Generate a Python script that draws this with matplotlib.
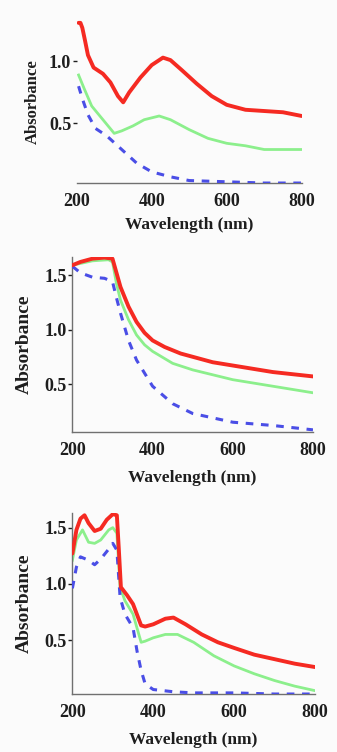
import matplotlib.pyplot as plt

plt.rcParams['font.family'] = ['Liberation Serif', 'DejaVu Serif']
plt.rcParams['font.weight'] = 'bold'

# ---- panel 1 ----
wl_a_red = [205, 210, 215, 222, 230, 245, 270, 290, 310, 324, 340, 370, 400, 430, 450, 480, 520, 560, 600, 650, 700, 750, 800]
abs_a_red = [1.31, 1.31, 1.27, 1.17, 1.05, 0.95, 0.90, 0.83, 0.72, 0.67, 0.75, 0.87, 0.97, 1.03, 1.01, 0.93, 0.82, 0.72, 0.65, 0.61, 0.60, 0.59, 0.56]
wl_a_green = [205, 220, 240, 270, 300, 320, 350, 380, 420, 450, 500, 550, 600, 650, 700, 800]
abs_a_green = [0.89, 0.78, 0.64, 0.53, 0.42, 0.44, 0.48, 0.53, 0.56, 0.53, 0.45, 0.38, 0.34, 0.32, 0.29, 0.29]
wl_a_blue = [205, 215, 230, 250, 280, 320, 360, 400, 450, 500, 600, 700, 800]
abs_a_blue = [0.80, 0.70, 0.57, 0.46, 0.40, 0.29, 0.18, 0.11, 0.07, 0.04, 0.03, 0.02, 0.02]

# ---- panel 2 ----
wl_b_red = [200, 220, 250, 280, 300, 310, 320, 340, 360, 380, 400, 430, 470, 500, 550, 600, 650, 700, 800]
abs_b_red = [1.59, 1.62, 1.65, 1.66, 1.65, 1.52, 1.39, 1.21, 1.07, 0.97, 0.90, 0.84, 0.78, 0.75, 0.70, 0.67, 0.64, 0.61, 0.57]
wl_b_green = [200, 250, 290, 300, 310, 320, 340, 360, 380, 400, 450, 500, 600, 700, 800]
abs_b_green = [1.59, 1.63, 1.64, 1.62, 1.42, 1.27, 1.09, 0.95, 0.86, 0.80, 0.69, 0.63, 0.54, 0.48, 0.42]
wl_b_blue = [200, 220, 250, 280, 300, 310, 320, 340, 360, 380, 400, 450, 500, 550, 600, 700, 800]
abs_b_blue = [1.58, 1.52, 1.48, 1.47, 1.44, 1.29, 1.15, 0.90, 0.72, 0.60, 0.48, 0.32, 0.23, 0.19, 0.15, 0.12, 0.08]

# ---- panel 3 ----
wl_c_red = [200, 210, 220, 230, 240, 255, 270, 285, 300, 310, 315, 320, 335, 350, 370, 380, 400, 430, 450, 480, 520, 560, 600, 650, 700, 750, 800]
abs_c_red = [1.27, 1.48, 1.58, 1.61, 1.54, 1.47, 1.49, 1.57, 1.62, 1.61, 1.30, 0.97, 0.90, 0.82, 0.63, 0.62, 0.64, 0.69, 0.70, 0.64, 0.55, 0.48, 0.43, 0.37, 0.33, 0.29, 0.26]
wl_c_green = [200, 210, 225, 240, 255, 270, 290, 300, 310, 318, 330, 350, 370, 380, 400, 430, 460, 500, 550, 600, 650, 700, 750, 800]
abs_c_green = [1.21, 1.39, 1.48, 1.37, 1.36, 1.39, 1.48, 1.50, 1.45, 0.97, 0.85, 0.73, 0.48, 0.49, 0.52, 0.55, 0.55, 0.48, 0.36, 0.27, 0.20, 0.14, 0.09, 0.05]
wl_c_blue = [200, 210, 220, 240, 255, 270, 290, 300, 310, 318, 330, 350, 360, 370, 380, 400, 450, 500, 600, 700, 800]
abs_c_blue = [0.96, 1.15, 1.24, 1.21, 1.17, 1.22, 1.31, 1.36, 1.30, 0.88, 0.73, 0.61, 0.40, 0.23, 0.11, 0.06, 0.04, 0.03, 0.03, 0.02, 0.02]

xticks = [200, 400, 600, 800]
yticks = [0.5, 1.0, 1.5]

RED = '#f52a22'
GREEN = '#8cef8c'
BLUE = '#4a4ee6'
AXC = '#707070'
TXT = '#1e1e1e'

fig = plt.figure(figsize=(3.37, 7.52), dpi=100)
fig.patch.set_facecolor('#fbfbfb')

panels = [
    # rect, ylim, xlim, data, ylabel size, ylabel pad, xlabel pad, left spine
    ([0.2276, 0.7566, 0.6677, 0.2168], (0.02, 1.333), (200, 800),
     (wl_a_red, abs_a_red, wl_a_green, abs_a_green, wl_a_blue, abs_a_blue), 12, 6, 5, False),
    ([0.2136, 0.4255, 0.7151, 0.2327], (0.06, 1.665), (199, 800),
     (wl_b_red, abs_b_red, wl_b_green, abs_b_green, wl_b_blue, abs_b_blue), 14, 8, 8, True),
    ([0.2136, 0.0771, 0.7210, 0.2407], (0.02, 1.63), (199, 800),
     (wl_c_red, abs_c_red, wl_c_green, abs_c_green, wl_c_blue, abs_c_blue), 14, 8, 8, True),
]

for rect, ylim, xlim, d, ylsize, ylpad, xlpad, left in panels:
    ax = fig.add_axes(rect)
    ax.set_facecolor('none')
    wr, ar, wg, ag, wb, ab = d
    ax.plot(wg, ag, color=GREEN, lw=2.0, zorder=2, solid_joinstyle='round')
    ax.plot(wb, ab, color=BLUE, lw=2.2, ls=(0, (2.5, 2.5)), zorder=3, dash_joinstyle='round')
    ax.plot(wr, ar, color=RED, lw=2.8, zorder=4, solid_joinstyle='round', solid_capstyle='round')
    ax.set_xlim(*xlim)
    ax.set_ylim(*ylim)
    ax.set_xticks(xticks)
    ax.set_yticks([t for t in yticks if t < ylim[1]])
    ax.set_yticklabels(['%.1f' % t for t in yticks if t < ylim[1]])
    for s in ['top', 'right']:
        ax.spines[s].set_visible(False)
    ax.spines['left'].set_visible(left)
    ax.spines['left'].set_color(AXC)
    ax.spines['bottom'].set_color(AXC)
    ax.spines['left'].set_linewidth(1.0)
    ax.spines['bottom'].set_linewidth(1.0)
    ax.tick_params(axis='x', length=0, pad=7, labelsize=13, colors=TXT)
    ax.tick_params(axis='y', length=3, width=1, pad=1, labelsize=13, colors=TXT)
    ax.set_xlabel('Wavelength (nm)', fontsize=12.5, fontweight='bold', color=TXT, labelpad=xlpad)
    ax.set_ylabel('Absorbance', fontsize=ylsize, fontweight='bold', color=TXT, labelpad=ylpad)

fig.savefig('out.png', dpi=100, facecolor=fig.get_facecolor())
